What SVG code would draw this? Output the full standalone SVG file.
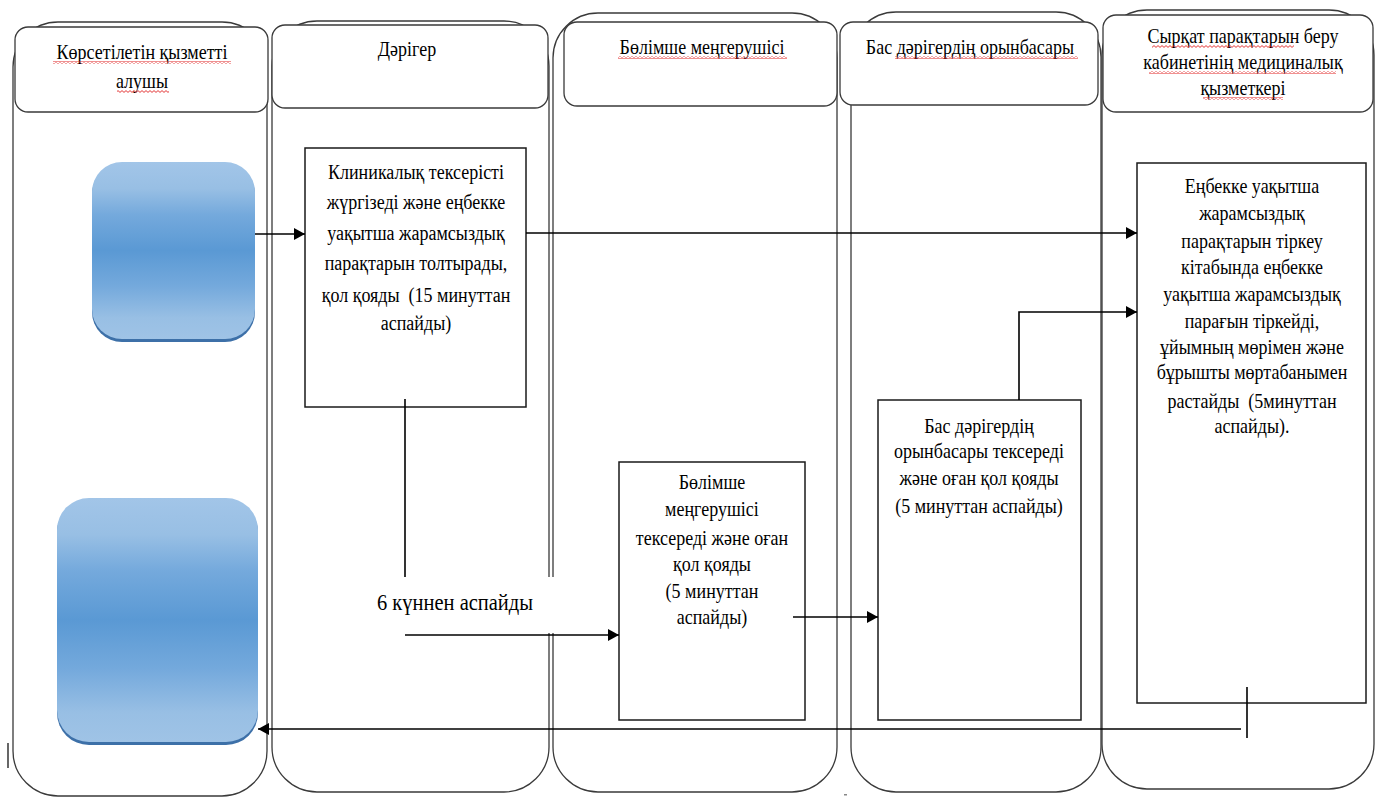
<svg xmlns="http://www.w3.org/2000/svg" width="1375" height="798" viewBox="0 0 1375 798">
<style>
.lane{fill:#fff;stroke:#3a3a3a;stroke-width:1.3}
.hdr{fill:#fff;stroke:#3a3a3a;stroke-width:1.3}
.box{fill:#fff;stroke:#1a1a1a;stroke-width:1.5}
.t{font-family:'Liberation Serif','DejaVu Serif',serif;font-size:18px;fill:#000;text-anchor:middle;white-space:pre}
.big{font-size:20.5px}
.c{fill:none;stroke:#000;stroke-width:1.6}
.wv{fill:url(#wave)}
</style>
<defs>
<marker id="ah" markerUnits="userSpaceOnUse" markerWidth="12" markerHeight="12" refX="11" refY="6" orient="auto">
<path d="M0,0 L11,6 L0,12 z" fill="#000"/>
</marker>
<linearGradient id="blue" x1="0" y1="0" x2="0" y2="1">
<stop offset="0" stop-color="#a2c5e8"/>
<stop offset="0.15" stop-color="#98bfe4"/>
<stop offset="0.3" stop-color="#74a9dc"/>
<stop offset="0.5" stop-color="#5a99d4"/>
<stop offset="0.7" stop-color="#74a9dc"/>
<stop offset="0.88" stop-color="#98bfe4"/>
<stop offset="1" stop-color="#9fc3e6"/>
</linearGradient>
<pattern id="wave" patternUnits="userSpaceOnUse" width="4" height="3">
<path d="M0,2.4 L2,0.6 L4,2.4" fill="none" stroke="#e02020" stroke-width="0.9"/>
</pattern>
</defs>

<g id="lanes">
<rect class="lane" x="13" y="22" width="254" height="774" rx="45" ry="45"/>
<rect class="lane" x="272" y="21" width="277" height="771" rx="45" ry="45"/>
<rect class="lane" x="553" y="13" width="284" height="779" rx="45" ry="45"/>
<rect class="lane" x="851" y="12" width="250" height="780" rx="45" ry="45"/>
<rect class="lane" x="1102" y="10" width="272" height="779" rx="45" ry="45"/>
</g>

<g id="header-1">
<rect class="hdr" x="15" y="27" width="253" height="85" rx="13"/>
<text class="t" x="142" y="59" transform="matrix(1 0 0 1.12 0 -7.08)">Көрсетілетін қызметті</text>
<text class="t" x="142" y="88" transform="matrix(1 0 0 1.12 0 -10.56)">алушы</text>
<rect class="wv" x="53" y="61" width="178" height="3"/>
<rect class="wv" x="117" y="90" width="52" height="3"/>
</g>
<g id="header-2">
<rect class="hdr" x="272" y="25" width="276" height="83" rx="13"/>
<text class="t" x="407" y="56" transform="matrix(1 0 0 1.12 0 -6.72)">Дәрігер</text>
</g>
<g id="header-3">
<rect class="hdr" x="564" y="22" width="273" height="84" rx="13"/>
<text class="t" x="702" y="54" transform="matrix(1 0 0 1.12 0 -6.48)">Бөлімше меңгерушісі</text>
<rect class="wv" x="618" y="56" width="169" height="3"/>
</g>
<g id="header-4">
<rect class="hdr" x="840" y="22" width="258" height="83" rx="13"/>
<text class="t" x="970" y="54" transform="matrix(1 0 0 1.12 0 -6.48)">Бас дәрігердің орынбасары</text>
<rect class="wv" x="895" y="56" width="183" height="3"/>
</g>
<g id="header-5">
<rect class="hdr" x="1103" y="15" width="270" height="97" rx="13"/>
<text class="t" x="1243" y="43" transform="matrix(1 0 0 1.12 0 -5.16)">Сырқат парақтарын беру</text>
<text class="t" x="1243" y="69" transform="matrix(1 0 0 1.12 0 -8.28)">кабинетінің медициналық</text>
<text class="t" x="1243" y="95" transform="matrix(1 0 0 1.12 0 -11.4)">қызметкері</text>
<rect class="wv" x="1152" y="45" width="142" height="3"/>
<rect class="wv" x="1149" y="71" width="187" height="3"/>
<rect class="wv" x="1203" y="97" width="80" height="3"/>
</g>

<g id="start-1">
<rect x="92" y="164" width="163" height="178" rx="30" fill="#3d70a8"/>
<rect x="92" y="162" width="163" height="177" rx="30" fill="url(#blue)"/>
</g>
<g id="end-1">
<rect x="57" y="500" width="201" height="245" rx="32" fill="#3d70a8"/>
<rect x="57" y="498" width="201" height="244" rx="32" fill="url(#blue)"/>
</g>

<g id="box-1">
<rect class="box" x="305" y="148" width="221" height="259"/>
<text class="t" x="416" y="179" transform="matrix(1 0 0 1.2 0 -35.8)">Клиникалық тексерісті</text>
<text class="t" x="416" y="209" transform="matrix(1 0 0 1.2 0 -41.8)">жүргізеді және еңбекке</text>
<text class="t" x="416" y="240" transform="matrix(1 0 0 1.2 0 -48)">уақытша жарамсыздық</text>
<text class="t" x="416" y="270" transform="matrix(1 0 0 1.2 0 -54)">парақтарын толтырады,</text>
<text class="t" x="416" y="302" transform="matrix(1 0 0 1.2 0 -60.4)">қол қояды  (15 минуттан</text>
<text class="t" x="416" y="330" transform="matrix(1 0 0 1.2 0 -66)">аспайды)</text>
</g>

<g id="box-3">
<rect class="box" x="619" y="462" width="186" height="258"/>
<text class="t" x="712" y="489" transform="matrix(1 0 0 1.12 0 -58.68)">Бөлімше</text>
<text class="t" x="712" y="516" transform="matrix(1 0 0 1.12 0 -61.92)">меңгерушісі</text>
<text class="t" x="712" y="545" transform="matrix(1 0 0 1.12 0 -65.4)">тексереді және оған</text>
<text class="t" x="712" y="571" transform="matrix(1 0 0 1.12 0 -68.52)">қол қояды</text>
<text class="t" x="712" y="598" transform="matrix(1 0 0 1.12 0 -71.76)">(5 минуттан</text>
<text class="t" x="712" y="624" transform="matrix(1 0 0 1.12 0 -74.88)">аспайды)</text>
</g>

<g id="box-4">
<rect class="box" x="878" y="400" width="203" height="320"/>
<text class="t" x="979" y="433" transform="matrix(1 0 0 1.12 0 -51.96)">Бас дәрігердің</text>
<text class="t" x="979" y="458" transform="matrix(1 0 0 1.12 0 -54.96)">орынбасары тексереді</text>
<text class="t" x="979" y="485" transform="matrix(1 0 0 1.12 0 -58.2)">және оған қол қояды</text>
<text class="t" x="979" y="513" transform="matrix(1 0 0 1.12 0 -61.56)">(5 минуттан аспайды)</text>
</g>

<g id="box-5">
<rect class="box" x="1137" y="163" width="229" height="540"/>
<text class="t" x="1252" y="193" transform="matrix(1 0 0 1.12 0 -23.16)">Еңбекке уақытша</text>
<text class="t" x="1252" y="220" transform="matrix(1 0 0 1.12 0 -26.4)">жарамсыздық</text>
<text class="t" x="1252" y="248" transform="matrix(1 0 0 1.12 0 -29.76)">парақтарын тіркеу</text>
<text class="t" x="1252" y="274" transform="matrix(1 0 0 1.12 0 -32.88)">кітабында еңбекке</text>
<text class="t" x="1252" y="301" transform="matrix(1 0 0 1.12 0 -36.12)">уақытша жарамсыздық</text>
<text class="t" x="1252" y="328" transform="matrix(1 0 0 1.12 0 -39.36)">парағын тіркейді,</text>
<text class="t" x="1252" y="354" transform="matrix(1 0 0 1.12 0 -42.48)">ұйымның мөрімен және</text>
<text class="t" x="1252" y="379" transform="matrix(1 0 0 1.12 0 -45.48)">бұрышты мөртабанымен</text>
<text class="t" x="1252" y="408" transform="matrix(1 0 0 1.12 0 -48.96)">растайды  (5минуттан</text>
<text class="t" x="1252" y="433" transform="matrix(1 0 0 1.12 0 -51.96)">аспайды).</text>
</g>

<g id="label-6days">
<rect x="360" y="577" width="198" height="56" fill="#fff"/>
<text class="t big" x="455" y="610" transform="matrix(1 0 0 1.12 0 -73.2)">6 күннен аспайды</text>
</g>

<g id="connectors">
<line class="c" x1="255" y1="234" x2="305" y2="234" marker-end="url(#ah)"/>
<line class="c" x1="526" y1="233" x2="1137" y2="233" marker-end="url(#ah)"/>
<line class="c" x1="405" y1="399" x2="405" y2="577"/>
<line class="c" x1="405" y1="635" x2="619" y2="635" marker-end="url(#ah)"/>
<line class="c" x1="793" y1="617" x2="878" y2="617" marker-end="url(#ah)"/>
<polyline class="c" points="1019,400 1019,312 1137,312" marker-end="url(#ah)"/>
<line class="c" x1="1241" y1="729" x2="258" y2="729" marker-end="url(#ah)"/>
<line class="c" x1="1247" y1="687" x2="1247" y2="738" stroke-width="1.3"/>
<line x1="8" y1="743" x2="8" y2="768" stroke="#000" stroke-width="1.2"/>
<rect x="844" y="794" width="3" height="1.5" fill="#888"/>
</g>
</svg>
